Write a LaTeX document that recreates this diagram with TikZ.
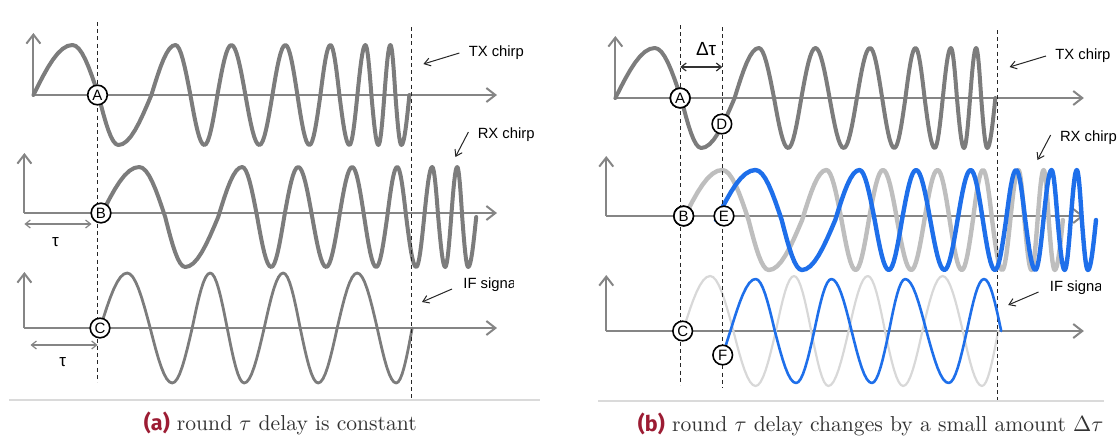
\documentclass[tikz,border=0pt]{standalone}
\usepackage{fontspec}
\usetikzlibrary{arrows.meta}
\newfontfamily\plotfont{Liberation Sans}
\newfontfamily\capsf{Fira Sans}
\definecolor{wvDark}{HTML}{7C7C7C}
\definecolor{wvAxis}{HTML}{858585}
\definecolor{wvLight}{HTML}{BEBEBE}
\definecolor{wvPale}{HTML}{D8D8D8}
\definecolor{wvBlue}{HTML}{1E6FEA}
\definecolor{wvRed}{HTML}{9C1C33}
\definecolor{wvRule}{HTML}{DADADA}
\tikzset{
 sig/.style={line cap=round,line join=round},
 axisline/.style={draw=wvAxis,line width=1pt,-{Straight Barb[length=4.5pt,width=7pt]}},
 txwave/.style={sig,draw=wvDark,line width=2pt},
 rxold/.style={sig,draw=wvLight,line width=2.2pt},
 rxnew/.style={sig,draw=wvBlue,line width=2.2pt},
 ifold/.style={sig,draw=wvDark,line width=1.4pt},
 ifpale/.style={sig,draw=wvPale,line width=1.1pt},
 ifnew/.style={sig,draw=wvBlue,line width=1.3pt},
 cut/.style={draw=black!85,line width=.6pt,dash pattern=on 2pt off 1.6pt},
 mk/.style={circle,draw=black,fill=white,line width=.8pt,inner sep=0pt,minimum size=9.8pt,
   font=\plotfont\fontsize{7.5}{8}\selectfont},
 pointer/.style={draw=black!85,line width=.5pt,-{Straight Barb[length=3pt,width=4pt]}},
 lbl/.style={font=\plotfont\fontsize{7.4}{8}\selectfont,anchor=west,inner sep=0pt},
 greek/.style={font=\plotfont\fontsize{8.5}{9}\selectfont,inner sep=0pt},
 span/.style={draw=wvAxis,line width=.6pt,
   {Straight Barb[length=2.5pt,width=4pt]}-{Straight Barb[length=2.5pt,width=4pt]}},
 caption/.style={font=\fontsize{10.8}{12}\selectfont,anchor=base west,inner sep=0pt,text=black!80},
 caprule/.style={draw=wvRule,line width=1pt}
}
% one wave: style, start x, centre y, amplitude, quarter-wave knots (relative x)
\newcommand{\wave}[5]{%
 \draw[#1] (#2,#3) foreach \q [count=\k from 0, remember=\q as \qp (initially 0)] in #5 {
   -- plot[variable=\s,domain=0:1,samples=9] ({#2+\qp+(\q-\qp)*\s},{#3-#4*sin(90*(\k+\s))}) };}
\newcommand{\txknots}{39,65,85,118,142,157,171,184,198,212,226,239,252,264,276,287,297,306,316,324,332,338,345,351,357,362,368,376}
\newcommand{\ifknots}{27,50,72,92,110,127,144,164,183,200,218,237,257,277,296,312}
\newcommand{\ifnewknots}{25,44,65,83,100,120,140,157,173,194,216,234,251,268}
% what both panels share
\newcommand{\panelbase}[4]{%
 \draw[axisline] (33.4,95) -- (33.4,33);
 \draw[axisline] (33.4,95) -- (497,95);
 \draw[axisline] (24.4,213) -- (24.4,153);
 \draw[axisline] (24.4,213) -- (497,213);
 \draw[axisline] (24.4,328) -- (24.4,272);
 \draw[axisline] (24.4,328) -- (497,328);
 \wave{txwave}{33.4}{95}{50}{\txknots}
 \wave{#2}{100.2}{217}{50}{\txknots}
 \wave{#3}{100.2}{328}{55}{\ifknots}
 \draw[cut] (97.6,22) -- (97.6,382);
 \draw[cut] (411.7,27) -- (411.7,398);
 \node[mk] (#1A) at (97.5,95) {A};
 \node[mk] (#1B) at (101,213) {B};
 \node[mk] (#1C) at (100,328) {C};
 \node[lbl] (#1tx) at (468.4,53) {TX chirp};
 \node[lbl] (#1rx) at (#4,135) {RX chirp};
 \begin{scope}
  \clip (440,270) rectangle (513,300);
  \node[lbl] (#1if) at (463,285) {IF signal};
 \end{scope}
 \draw[pointer] ([xshift=-4.5pt]#1tx.west) -- ++(-36,11);
 \draw[pointer] ([yshift=1.5pt]#1rx.west) ++(-9,0) -- ++(-13,25);
 \draw[pointer] ([xshift=-5.5pt,yshift=-2pt]#1if.west) -- ++(-30,13);
}

\begin{document}
\begin{tikzpicture}[x=0.5pt,y=-0.5pt]
 \useasboundingbox (0,0) rectangle (1119,440);
 % (a) constant delay
 \panelbase{a}{txwave}{ifold}{477.4}
 \draw[span] (24.4,224) -- (91.5,224);
 \node[greek] (tauB) at (55.6,242) {τ};
 \draw[span] (30.5,345) -- (97.6,345);
 \node[greek] (tauC) at (62.8,362) {τ};
 % (b) delay grows by a small step
 \begin{scope}[shift={(581.6,3)},xscale=1.0106]
  \coordinate (f) at (139.6,352);
  \panelbase{b}{rxold}{ifpale}{473}
  \wave{rxnew}{133}{217}{50}{\txknots}
  \draw[ifnew] (f) -- (147.2,328);
  \wave{ifnew}{147.2}{328}{52}{\ifnewknots}
  \draw[cut] (139.1,24) -- (139.1,385);
  \coordinate (d0) at (97.6,64);
  \coordinate (d1) at (139.1,64);
  \draw[span,draw=black!80] (d0) -- (d1);
  \node[greek,font=\plotfont\fontsize{9.5}{10}\selectfont] (dtau) at (123.2,46) {Δτ};
  \node[mk] (bA) at (97.5,95) {A};
  \node[mk] (D) at (138.8,121) {D};
  \node[mk] (bB) at (101,213) {B};
  \node[mk] (E) at (140.9,213) {E};
  \node[mk] (F) at (f) {F};
 \end{scope}
 % captions
 \draw[caprule] (9,400) -- (540,400);
 \draw[caprule] (598,401) -- (1104,401);
 \node[caption] (capa) at (143.5,430) {{\capsf\bfseries\color{wvRed}(a)} round $\tau$ delay is constant};
 \node[caption] (capb) at (637.5,431) {{\capsf\bfseries\color{wvRed}(b)} round $\tau$ delay changes by a small amount $\Delta\tau$};
\end{tikzpicture}
\end{document}
